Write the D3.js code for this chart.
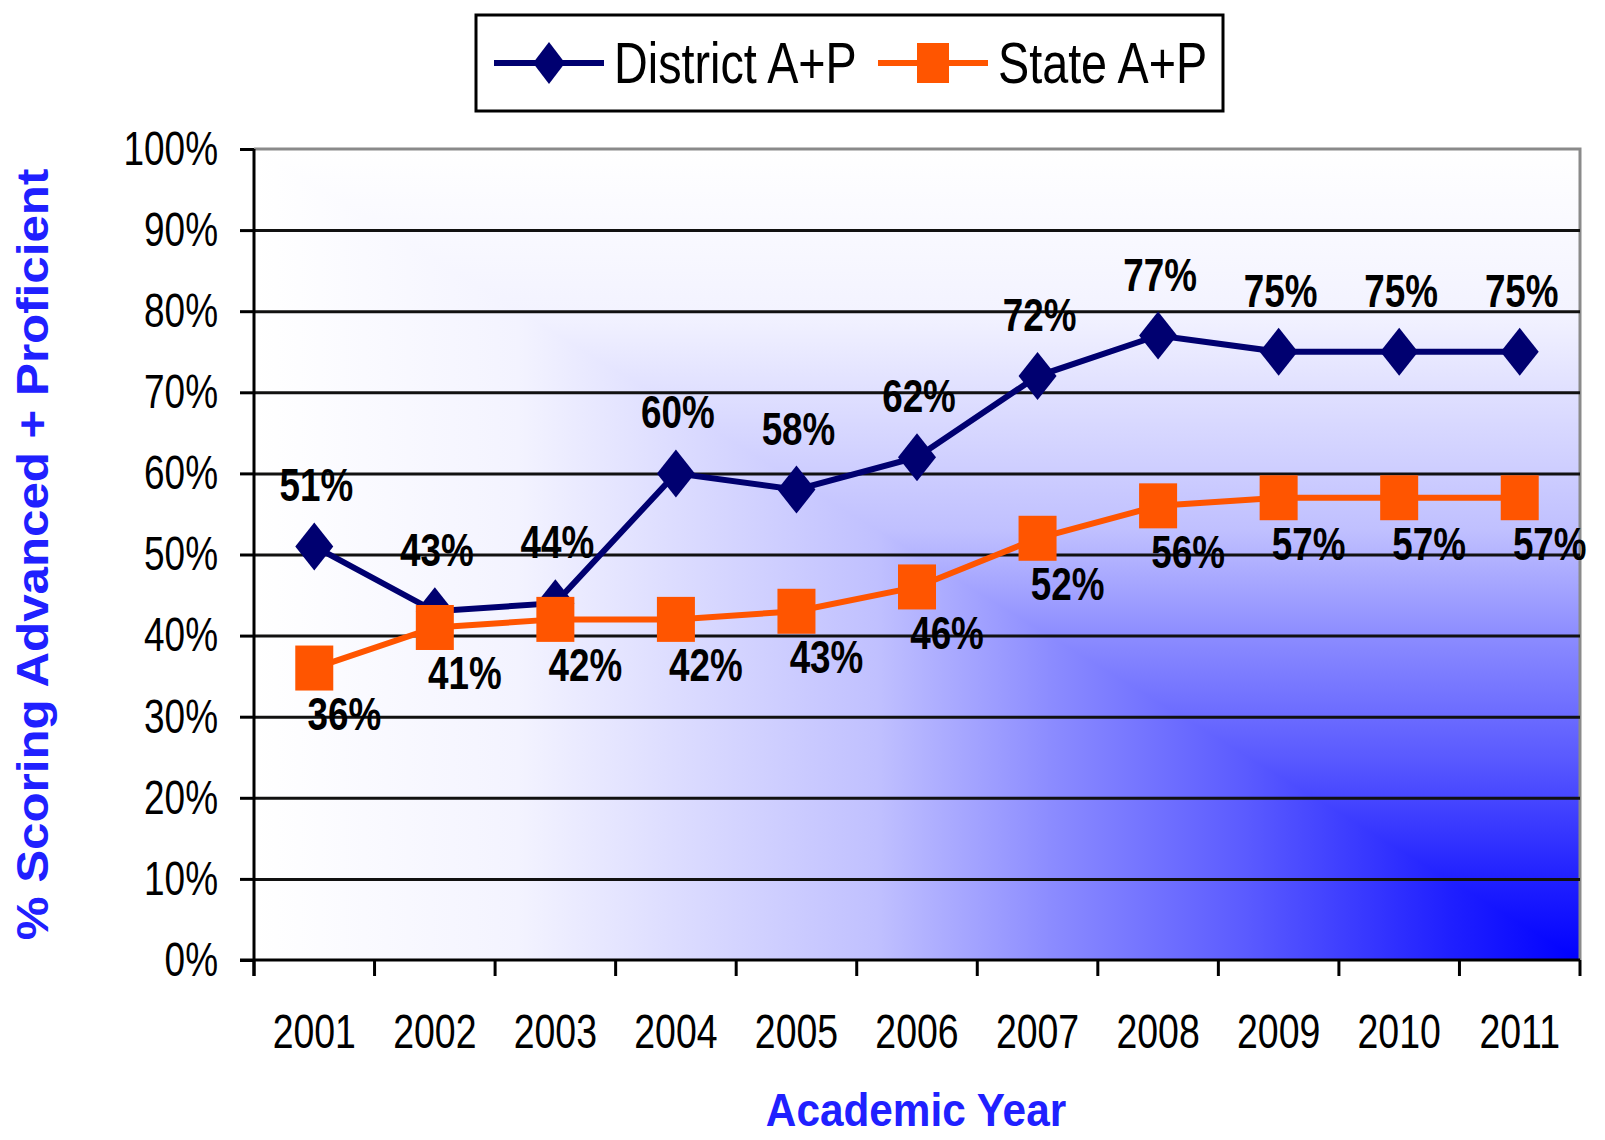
<!DOCTYPE html>
<html>
<head>
<meta charset="utf-8">
<script src="https://cdn.jsdelivr.net/npm/d3@7"></script>
<style>
body { margin: 0; background: #fff; }
svg text { font-family: "Liberation Sans", Arial, sans-serif; fill: #000; }
</style>
</head>
<body>
<svg></svg>
<script>
var years = ['2001','2002','2003','2004','2005','2006','2007','2008','2009','2010','2011'];
var districtAP = [51,43,44,60,58,62,72,77,75,75,75];
var stateAP = [36,41,42,42,43,46,52,56,57,57,57];
var yTicks = [0,10,20,30,40,50,60,70,80,90,100];
var seriesNames = ['District A+P','State A+P'];

var w = 1605;
var h = 1140;
var margin = {top:149, right:25, bottom:180, left:254};
var x0 = margin.left, x1 = w - margin.right;
var yTop = margin.top, yBot = h - margin.bottom;

var navy = '#000070';
var orange = '#ff5500';
var titleBlue = '#2020ff';

var svg = d3.select('svg')
    .attr('width', w)
    .attr('height', h);

var x = d3.scaleBand().domain(years).range([x0, x1]);
var y = d3.scaleLinear().domain([0, 100]).range([yBot, yTop]);
var cx = function(i){ return x(years[i]) + x.bandwidth()/2 };

// no Arial Narrow here, so squeeze Liberation Sans instead
function narrow(sel, sx, sy){
    sel.each(function(){
        var t = d3.select(this);
        var tx = +t.attr('x') || 0, ty = +t.attr('y') || 0;
        t.attr('x', 0).attr('y', 0)
            .attr('transform', 'translate('+tx+','+ty+') scale('+sx+','+(sy || 1)+')');
    });
}

// background: "from corner" fill, darkest at bottom right
var defs = svg.append('defs');
var stops = [[0,'#ffffff'],[0.2,'#f3f3ff'],[0.34,'#d8d8ff'],[0.47,'#c0c0ff'],
             [0.6,'#8c8cff'],[0.75,'#5a5aff'],[0.9,'#2020ff'],[1,'#0000ff']];
function grad(id, xa, ya, xb, yb){
    var g = defs.append('linearGradient').attr('id', id)
        .attr('gradientUnits','userSpaceOnUse')
        .attr('x1', xa).attr('y1', ya).attr('x2', xb).attr('y2', yb);
    g.selectAll('stop').data(stops).enter().append('stop')
        .attr('offset', function(d){ return d[0] })
        .attr('stop-color', function(d){ return d[1] });
}
grad('gv', 0, yTop, 0, yBot);
grad('gh', x0, 0, x1, 0);

svg.append('rect')
    .attr('x', x0).attr('y', yTop)
    .attr('width', x1 - x0).attr('height', yBot - yTop)
    .attr('fill', 'url(#gv)');
svg.append('path')
    .attr('d', 'M'+x0+','+yTop+'L'+x1+','+yBot+'L'+x0+','+yBot+'Z')
    .attr('fill', 'url(#gh)');

// plot border (top and right)
svg.append('path')
    .attr('d', 'M'+x0+','+yTop+'H'+x1+'V'+yBot)
    .attr('fill', 'none')
    .attr('stroke', '#8a8a8a')
    .attr('stroke-width', 3);

// gridlines
svg.append('g')
    .attr('transform', 'translate('+x0+',0)')
    .call(d3.axisLeft(y).tickValues(yTicks.slice(1, -1)).tickSize(-(x1 - x0)).tickFormat(''))
    .call(function(g){ g.select('.domain').remove() })
    .selectAll('line')
    .attr('stroke', '#111')
    .attr('stroke-width', 3);

// y axis
var yAxis = svg.append('g')
    .attr('transform', 'translate('+x0+',0)')
    .call(d3.axisLeft(y).tickValues(yTicks).tickSize(14).tickPadding(22)
        .tickFormat(function(d){ return d + '%' }));
yAxis.select('.domain').attr('d', 'M0,'+yTop+'V'+(yBot+16)).attr('stroke', '#000').attr('stroke-width', 3);
yAxis.selectAll('line').attr('stroke', '#000').attr('stroke-width', 3);
yAxis.selectAll('text').attr('font-size', 48).call(narrow, 0.77);

// x axis: labels centred, ticks on category boundaries
var xAxis = svg.append('g')
    .attr('transform', 'translate(0,'+yBot+')')
    .call(d3.axisBottom(x).tickSize(0).tickPadding(54));
xAxis.select('.domain').attr('d', 'M'+(x0-14)+',0H'+x1).attr('stroke', '#000').attr('stroke-width', 3);
xAxis.selectAll('text').attr('font-size', 48).call(narrow, 0.78);
xAxis.selectAll('line.bound')
    .data(years.concat(['end']))
    .enter()
    .append('line')
    .attr('class', 'bound')
    .attr('x1', function(d,i){ return x0 + i * x.step() })
    .attr('x2', function(d,i){ return x0 + i * x.step() })
    .attr('y1', 0)
    .attr('y2', 16)
    .attr('stroke', '#000')
    .attr('stroke-width', 3);

// axis titles
svg.append('text')
    .attr('transform', 'translate(48,'+((yTop+yBot)/2)+') rotate(-90) scale(1.12,1)')
    .attr('text-anchor', 'middle')
    .attr('font-weight', 'bold')
    .attr('font-size', 44)
    .style('fill', titleBlue)
    .text('% Scoring Advanced + Proficient');

svg.append('text')
    .attr('x', 916)
    .attr('y', 1126)
    .attr('text-anchor', 'middle')
    .attr('font-weight', 'bold')
    .attr('font-size', 46)
    .style('fill', titleBlue)
    .text('Academic Year')
    .call(narrow, 0.92);

// series
var line = d3.line()
    .x(function(d,i){ return cx(i) })
    .y(function(d){ return y(d) });

function diamond(sel, w2, h2){
    sel.attr('d', 'M0,'+(-h2)+'L'+w2+',0L0,'+h2+'L'+(-w2)+',0Z');
}

svg.append('path')
    .datum(districtAP)
    .attr('d', line)
    .attr('fill', 'none')
    .attr('stroke', navy)
    .attr('stroke-width', 6);

svg.selectAll('path.dmark')
    .data(districtAP)
    .enter()
    .append('path')
    .attr('class', 'dmark')
    .attr('transform', function(d,i){ return 'translate('+cx(i)+','+y(d)+')' })
    .call(diamond, 19, 24)
    .attr('fill', navy);

svg.append('path')
    .datum(stateAP)
    .attr('d', line)
    .attr('fill', 'none')
    .attr('stroke', orange)
    .attr('stroke-width', 6);

svg.selectAll('rect.smark')
    .data(stateAP)
    .enter()
    .append('rect')
    .attr('class', 'smark')
    .attr('x', function(d,i){ return cx(i) - 19 })
    .attr('y', function(d){ return y(d) - 22.5 })
    .attr('width', 38)
    .attr('height', 45)
    .attr('fill', orange);

// data labels
svg.selectAll('text.dlab')
    .data(districtAP)
    .enter()
    .append('text')
    .attr('class', 'dlab')
    .attr('x', function(d,i){ return cx(i) + 2 })
    .attr('y', function(d){ return y(d) - 62 + 17 })
    .attr('text-anchor', 'middle')
    .attr('font-weight', 'bold')
    .attr('font-size', 46)
    .text(function(d){ return d + '%' })
    .call(narrow, 0.8);

svg.selectAll('text.slab')
    .data(stateAP)
    .enter()
    .append('text')
    .attr('class', 'slab')
    .attr('x', function(d,i){ return cx(i) + 30 })
    .attr('y', function(d){ return y(d) + 45 + 17 })
    .attr('text-anchor', 'middle')
    .attr('font-weight', 'bold')
    .attr('font-size', 46)
    .text(function(d){ return d + '%' })
    .call(narrow, 0.8);

// legend
var legend = svg.append('g');
legend.append('rect')
    .attr('x', 476).attr('y', 15)
    .attr('width', 747).attr('height', 96)
    .attr('fill', '#fff')
    .attr('stroke', '#000')
    .attr('stroke-width', 3);

var items = legend.selectAll('g.item')
    .data(seriesNames)
    .enter()
    .append('g')
    .attr('class', 'item')
    .attr('transform', function(d,i){ return 'translate('+(494 + i*384)+',63)' });

items.append('line')
    .attr('x1', 0).attr('x2', 110)
    .attr('stroke', function(d,i){ return i ? orange : navy })
    .attr('stroke-width', 6);

items.filter(function(d,i){ return i == 0 })
    .append('path')
    .attr('transform', 'translate(55,0)')
    .call(diamond, 16, 21)
    .attr('fill', navy);

items.filter(function(d,i){ return i == 1 })
    .append('rect')
    .attr('x', 39).attr('y', -20)
    .attr('width', 32).attr('height', 40)
    .attr('fill', orange);

items.append('text')
    .attr('x', 120)
    .attr('y', 20)
    .attr('font-size', 57)
    .text(function(d){ return d })
    .call(narrow, 0.82);
</script>
</body>
</html>
